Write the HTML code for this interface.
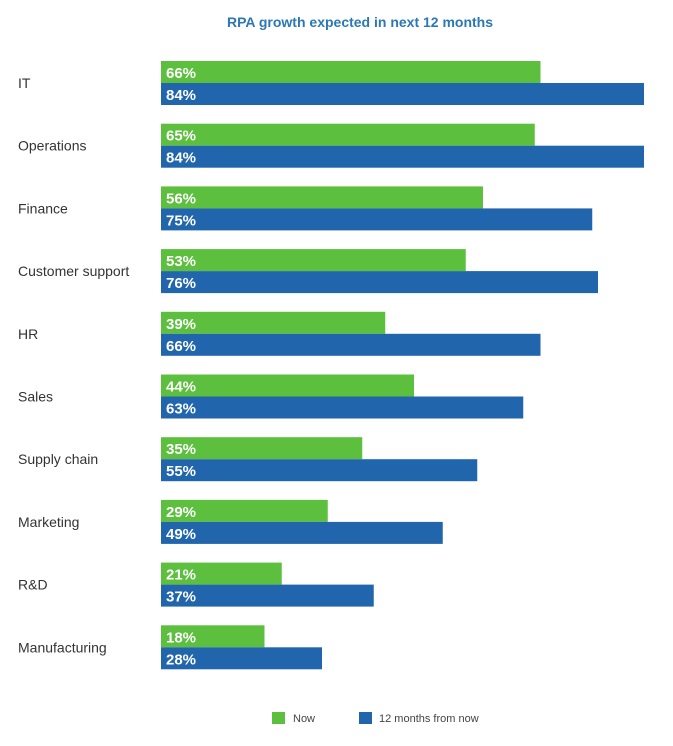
<!DOCTYPE html>
<html><head><meta charset="utf-8"><style>
body{margin:0;background:#fff;font-family:"Liberation Sans",sans-serif}
</style></head><body>
<svg width="673" height="741" xmlns="http://www.w3.org/2000/svg">
<text x="360" y="27" text-anchor="middle" font-size="14" font-weight="bold" fill="#2a78b5">RPA growth expected in next 12 months</text>
<g id="bars"></g>
<g>
<rect x="272" y="712" width="13" height="12" fill="#5cbf3e"/>
<text x="293" y="722" font-size="11" fill="#444">Now</text>
<rect x="359" y="712" width="13" height="12" fill="#2166ad"/>
<text x="379" y="722" font-size="11" fill="#444">12 months from now</text>
</g>
</svg>
<script>
const categories=["IT","Operations","Finance","Customer support","HR","Sales","Supply chain","Marketing","R&D","Manufacturing"];
const nowValues=[66,65,56,53,39,44,35,29,21,18];
const futureValues=[84,84,75,76,66,63,55,49,37,28];
const x0=161, pxPer=5.75, topY=61, pitch=62.7, bh=22;
function xs(v){return v*pxPer;}
const g=document.getElementById('bars');
const ns="http://www.w3.org/2000/svg";
function mk(t,a){const e=document.createElementNS(ns,t);for(const k in a)e.setAttribute(k,a[k]);return e;}
categories.forEach((c,i)=>{
  const y=topY+i*pitch;
  const lab=mk('text',{x:18,y:y+bh+5,'font-size':14,fill:'#333'});
  lab.textContent=c;
  
  
  g.appendChild(lab);
  [[nowValues[i],'#5cbf3e',y,'bar-now'],[futureValues[i],'#2166ad',y+bh,'bar-12-months']].forEach(([v,col,yy,nm])=>{
    const r=mk('rect',{x:x0,y:yy,width:xs(v),height:bh,fill:col});
    
    
    g.appendChild(r);
    const t=mk('text',{x:x0+5,y:yy+17,'font-size':15,'font-weight':'bold',fill:'#fff'});
    t.textContent=v+'%';
    
    
    g.appendChild(t);
  });
});
</script>
</body></html>
